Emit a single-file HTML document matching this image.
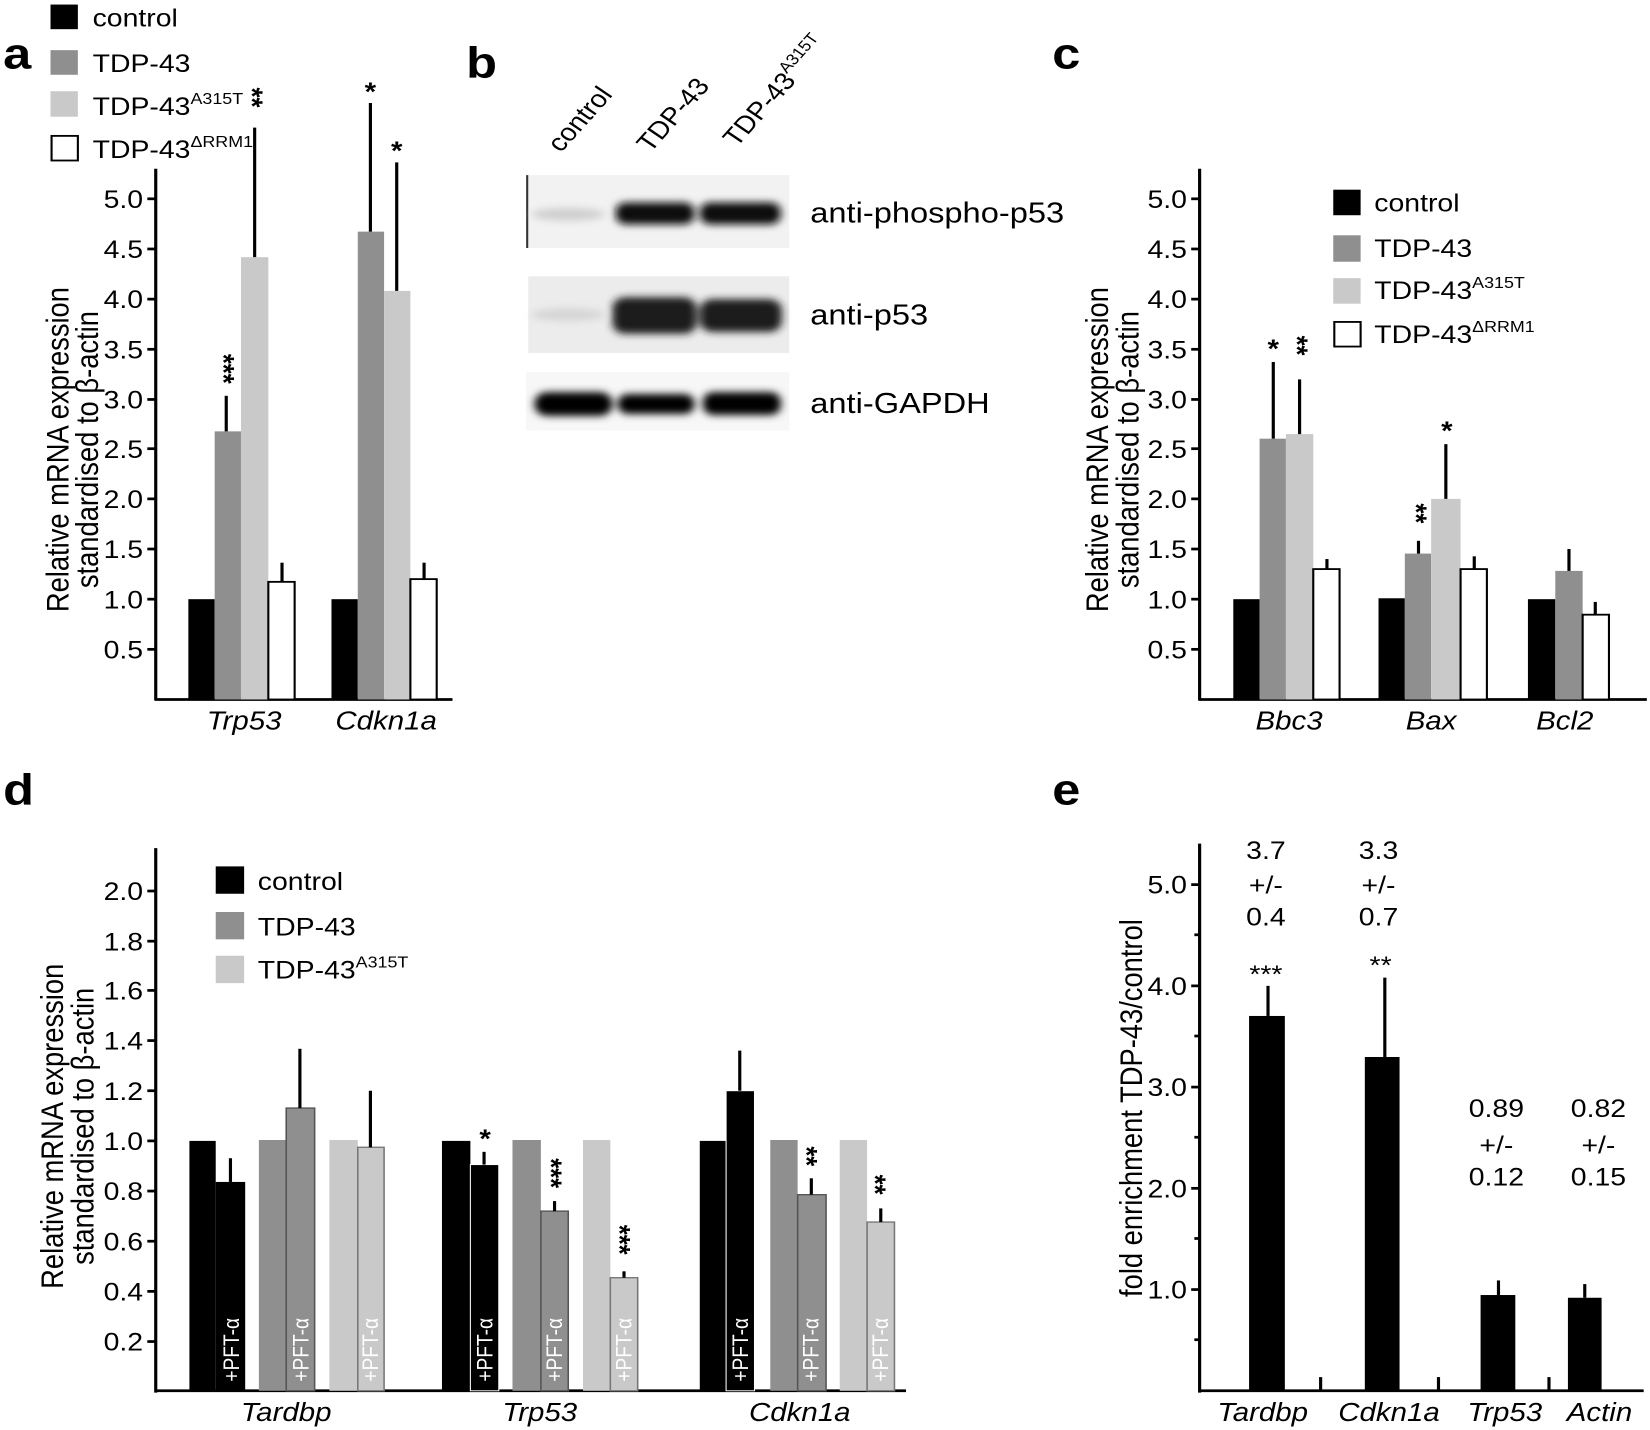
<!DOCTYPE html>
<html><head><meta charset="utf-8"><style>
html,body{margin:0;padding:0;background:#fff;}
svg{display:block;}
text{font-family:"Liberation Sans",sans-serif;fill:#000;}
.t{font-size:27px;}
.yl{font-size:30px;}
.tk{font-size:27px;text-anchor:end;}
.it{font-style:italic;font-size:28px;text-anchor:middle;}
.big{font-size:48px;font-weight:bold;}
.st{font-size:28px;font-weight:bold;}
.pf{font-size:21px;fill:#fff;}
.c{text-anchor:middle;}
</style></head><body>
<svg width="1650" height="1430" viewBox="0 0 1568 1568" preserveAspectRatio="none" xmlns="http://www.w3.org/2000/svg">
<rect width="1568" height="1568" fill="#fff"/>

<!-- ===== Panel a ===== -->
<text class="big" x="3" y="75">a</text>
<rect x="48" y="5" width="26" height="27" fill="#000"/>
<rect x="48" y="55" width="26" height="27" fill="#8f8f8f"/>
<rect x="48" y="100" width="26" height="28" fill="#c9c9c9"/>
<rect x="49" y="149" width="25" height="27" fill="#fff" stroke="#000" stroke-width="2"/>
<text class="t" x="88" y="29">control</text>
<text class="t" x="88" y="79">TDP-43</text>
<text class="t" x="88" y="126">TDP-43<tspan font-size="17" dy="-12">A315T</tspan></text>
<text class="t" x="88" y="173">TDP-43<tspan font-size="17" dy="-12">ΔRRM1</tspan></text>

<g stroke="#000" stroke-width="3">
<line x1="148" y1="185" x2="148" y2="768"/>
<line x1="147" y1="767" x2="430" y2="767"/>
<line x1="140" y1="218" x2="148" y2="218"/><line x1="140" y1="273" x2="148" y2="273"/>
<line x1="140" y1="328" x2="148" y2="328"/><line x1="140" y1="383" x2="148" y2="383"/>
<line x1="140" y1="438" x2="148" y2="438"/><line x1="140" y1="492" x2="148" y2="492"/>
<line x1="140" y1="547" x2="148" y2="547"/><line x1="140" y1="602" x2="148" y2="602"/>
<line x1="140" y1="657" x2="148" y2="657"/><line x1="140" y1="712" x2="148" y2="712"/>
</g>
<g>
<text class="tk" x="136" y="228">5.0</text><text class="tk" x="136" y="283">4.5</text>
<text class="tk" x="136" y="338">4.0</text><text class="tk" x="136" y="393">3.5</text>
<text class="tk" x="136" y="448">3.0</text><text class="tk" x="136" y="502">2.5</text>
<text class="tk" x="136" y="557">2.0</text><text class="tk" x="136" y="612">1.5</text>
<text class="tk" x="136" y="667">1.0</text><text class="tk" x="136" y="722">0.5</text>
</g>
<text class="yl c" transform="translate(55,493) rotate(-90)" y="10">Relative mRNA expression</text>
<text class="yl c" transform="translate(83,493) rotate(-90)" y="10">standardised to β-actin</text>
<!-- bars a -->
<rect x="179" y="657" width="25" height="110" fill="#000"/>
<rect x="204" y="473" width="25" height="294" fill="#8f8f8f"/>
<rect x="229" y="282" width="26" height="485" fill="#c9c9c9"/>
<rect x="255" y="638" width="25" height="129" fill="#fff" stroke="#000" stroke-width="2"/>
<rect x="315" y="657" width="25" height="110" fill="#000"/>
<rect x="340" y="254" width="25" height="513" fill="#8f8f8f"/>
<rect x="365" y="319" width="25" height="448" fill="#c9c9c9"/>
<rect x="390" y="635" width="25" height="132" fill="#fff" stroke="#000" stroke-width="2"/>
<g stroke="#000" stroke-width="3">
<line x1="215" y1="473" x2="215" y2="434"/>
<line x1="242" y1="282" x2="242" y2="140"/>
<line x1="268" y1="638" x2="268" y2="617"/>
<line x1="352" y1="254" x2="352" y2="113"/>
<line x1="377" y1="319" x2="377" y2="178"/>
<line x1="403" y1="635" x2="403" y2="617"/>
</g>
<text class="st" transform="translate(203,388) rotate(90)">***</text>
<text class="st" transform="translate(230,96) rotate(90)">**</text>
<text class="st c" x="352" y="110">*</text>
<text class="st c" x="377" y="175">*</text>
<text class="it" x="232" y="800">Trp53</text>
<text class="it" x="367" y="800">Cdkn1a</text>

<!-- ===== Panel b ===== -->
<text class="big" x="443" y="85">b</text>
<text class="t" transform="translate(533,168) rotate(-52)">control</text>
<text class="t" transform="translate(618,168) rotate(-52)">TDP-43</text>
<text class="t" transform="translate(700,162) rotate(-52)">TDP-43<tspan font-size="17" dy="-12">A315T</tspan></text>
<defs><filter id="bl"><feGaussianBlur stdDeviation="4"/></filter></defs>
<rect x="500" y="192" width="250" height="80" fill="#f2f2f2"/>
<line x1="501" y1="192" x2="501" y2="272" stroke="#333" stroke-width="2"/>
<rect x="502" y="303" width="248" height="84" fill="#ececec"/>
<rect x="500" y="408" width="250" height="64" fill="#f7f7f7"/>
<g filter="url(#bl)">
<ellipse cx="540" cy="235" rx="35" ry="7" fill="#cfcfcf"/>
<rect x="585" y="222" width="75" height="24" rx="10" fill="#111"/>
<rect x="665" y="222" width="77" height="24" rx="10" fill="#111"/>
<ellipse cx="540" cy="345" rx="35" ry="7" fill="#d5d5d5"/>
<rect x="582" y="326" width="80" height="40" rx="12" fill="#1a1a1a"/>
<rect x="665" y="328" width="78" height="36" rx="12" fill="#1a1a1a"/>
<rect x="508" y="430" width="74" height="26" rx="12" fill="#000"/>
<rect x="587" y="432" width="73" height="22" rx="10" fill="#050505"/>
<rect x="668" y="430" width="74" height="25" rx="10" fill="#000"/>
</g>
<text x="770" y="244" font-size="31">anti-phospho-p53</text>
<text x="770" y="356" font-size="31">anti-p53</text>
<text x="770" y="453" font-size="31">anti-GAPDH</text>

<!-- ===== Panel c ===== -->
<text class="big" x="1000" y="75">c</text>
<g stroke="#000" stroke-width="3">
<line x1="1140" y1="185" x2="1140" y2="768"/>
<line x1="1139" y1="767" x2="1565" y2="767"/>
<line x1="1132" y1="218" x2="1140" y2="218"/><line x1="1132" y1="273" x2="1140" y2="273"/>
<line x1="1132" y1="328" x2="1140" y2="328"/><line x1="1132" y1="383" x2="1140" y2="383"/>
<line x1="1132" y1="438" x2="1140" y2="438"/><line x1="1132" y1="492" x2="1140" y2="492"/>
<line x1="1132" y1="547" x2="1140" y2="547"/><line x1="1132" y1="602" x2="1140" y2="602"/>
<line x1="1132" y1="657" x2="1140" y2="657"/><line x1="1132" y1="712" x2="1140" y2="712"/>
</g>
<g>
<text class="tk" x="1128" y="228">5.0</text><text class="tk" x="1128" y="283">4.5</text>
<text class="tk" x="1128" y="338">4.0</text><text class="tk" x="1128" y="393">3.5</text>
<text class="tk" x="1128" y="448">3.0</text><text class="tk" x="1128" y="502">2.5</text>
<text class="tk" x="1128" y="557">2.0</text><text class="tk" x="1128" y="612">1.5</text>
<text class="tk" x="1128" y="667">1.0</text><text class="tk" x="1128" y="722">0.5</text>
</g>
<text class="yl c" transform="translate(1043,493) rotate(-90)" y="10">Relative mRNA expression</text>
<text class="yl c" transform="translate(1072,493) rotate(-90)" y="10">standardised to β-actin</text>
<rect x="1267" y="208" width="26" height="28" fill="#000"/>
<rect x="1267" y="258" width="26" height="29" fill="#8f8f8f"/>
<rect x="1267" y="305" width="26" height="28" fill="#c9c9c9"/>
<rect x="1268" y="353" width="25" height="27" fill="#fff" stroke="#000" stroke-width="2"/>
<text class="t" x="1306" y="232">control</text>
<text class="t" x="1306" y="282">TDP-43</text>
<text class="t" x="1306" y="328">TDP-43<tspan font-size="17" dy="-12">A315T</tspan></text>
<text class="t" x="1306" y="376">TDP-43<tspan font-size="17" dy="-12">ΔRRM1</tspan></text>
<rect x="1172" y="657" width="25" height="110" fill="#000"/>
<rect x="1197" y="481" width="25" height="286" fill="#8f8f8f"/>
<rect x="1222" y="476" width="26" height="291" fill="#c9c9c9"/>
<rect x="1248" y="624" width="25" height="143" fill="#fff" stroke="#000" stroke-width="2"/>
<rect x="1310" y="656" width="25" height="111" fill="#000"/>
<rect x="1335" y="607" width="25" height="160" fill="#8f8f8f"/>
<rect x="1360" y="547" width="28" height="220" fill="#c9c9c9"/>
<rect x="1388" y="624" width="25" height="143" fill="#fff" stroke="#000" stroke-width="2"/>
<rect x="1452" y="657" width="26" height="110" fill="#000"/>
<rect x="1478" y="626" width="26" height="141" fill="#8f8f8f"/>
<rect x="1504" y="674" width="25" height="93" fill="#fff" stroke="#000" stroke-width="2"/>
<g stroke="#000" stroke-width="3">
<line x1="1210" y1="481" x2="1210" y2="397"/>
<line x1="1235" y1="476" x2="1235" y2="416"/>
<line x1="1261" y1="624" x2="1261" y2="613"/>
<line x1="1348" y1="607" x2="1348" y2="593"/>
<line x1="1374" y1="547" x2="1374" y2="487"/>
<line x1="1401" y1="624" x2="1401" y2="610"/>
<line x1="1491" y1="626" x2="1491" y2="602"/>
<line x1="1516" y1="674" x2="1516" y2="660"/>
</g>
<text class="st c" x="1210" y="392">*</text>
<text class="st" transform="translate(1223,368) rotate(90)">**</text>
<text class="st" transform="translate(1336,552) rotate(90)">**</text>
<text class="st c" x="1375" y="482">*</text>
<text class="it" x="1225" y="800">Bbc3</text>
<text class="it" x="1360" y="800">Bax</text>
<text class="it" x="1487" y="800">Bcl2</text>

<!-- ===== Panel d ===== -->
<text class="big" x="3" y="882">d</text>
<g stroke="#000" stroke-width="3">
<line x1="148" y1="930" x2="148" y2="1527"/>
<line x1="147" y1="1525" x2="861" y2="1525"/>
<line x1="140" y1="977" x2="148" y2="977"/><line x1="140" y1="1032" x2="148" y2="1032"/>
<line x1="140" y1="1086" x2="148" y2="1086"/><line x1="140" y1="1141" x2="148" y2="1141"/>
<line x1="140" y1="1196" x2="148" y2="1196"/><line x1="140" y1="1251" x2="148" y2="1251"/>
<line x1="140" y1="1306" x2="148" y2="1306"/><line x1="140" y1="1361" x2="148" y2="1361"/>
<line x1="140" y1="1416" x2="148" y2="1416"/><line x1="140" y1="1471" x2="148" y2="1471"/>
</g>
<g>
<text class="tk" x="136" y="987">2.0</text><text class="tk" x="136" y="1042">1.8</text>
<text class="tk" x="136" y="1096">1.6</text><text class="tk" x="136" y="1151">1.4</text>
<text class="tk" x="136" y="1206">1.2</text><text class="tk" x="136" y="1261">1.0</text>
<text class="tk" x="136" y="1316">0.8</text><text class="tk" x="136" y="1371">0.6</text>
<text class="tk" x="136" y="1426">0.4</text><text class="tk" x="136" y="1481">0.2</text>
</g>
<text class="yl c" transform="translate(50,1235) rotate(-90)" y="10">Relative mRNA expression</text>
<text class="yl c" transform="translate(79,1235) rotate(-90)" y="10">standardised to β-actin</text>
<rect x="205" y="950" width="27" height="30" fill="#000"/>
<rect x="205" y="1000" width="27" height="30" fill="#8f8f8f"/>
<rect x="205" y="1048" width="27" height="30" fill="#c9c9c9"/>
<text class="t" x="245" y="976">control</text>
<text class="t" x="245" y="1026">TDP-43</text>
<text class="t" x="245" y="1073">TDP-43<tspan font-size="17" dy="-12">A315T</tspan></text>
<!-- Tardbp -->
<rect x="180" y="1251" width="25" height="274" fill="#000"/>
<rect x="205" y="1296" width="28" height="229" fill="#000"/>
<rect x="246" y="1250" width="26" height="275" fill="#8f8f8f"/>
<rect x="272" y="1215" width="27" height="310" fill="#8f8f8f" stroke="#555" stroke-width="1.5"/>
<rect x="313" y="1250" width="27" height="275" fill="#c9c9c9"/>
<rect x="340" y="1258" width="25" height="267" fill="#c9c9c9" stroke="#777" stroke-width="1.5"/>
<!-- Trp53 -->
<rect x="420" y="1251" width="27" height="274" fill="#000"/>
<rect x="447" y="1277" width="27" height="248" fill="#000" stroke="#fff" stroke-width="1"/>
<rect x="487" y="1250" width="27" height="275" fill="#8f8f8f"/>
<rect x="514" y="1328" width="26" height="197" fill="#8f8f8f" stroke="#555" stroke-width="1.5"/>
<rect x="554" y="1250" width="26" height="275" fill="#c9c9c9"/>
<rect x="580" y="1401" width="26" height="124" fill="#c9c9c9" stroke="#777" stroke-width="1.5"/>
<!-- Cdkn1a -->
<rect x="665" y="1251" width="25" height="274" fill="#000"/>
<rect x="690" y="1196" width="27" height="329" fill="#000" stroke="#fff" stroke-width="1"/>
<rect x="732" y="1250" width="26" height="275" fill="#8f8f8f"/>
<rect x="758" y="1310" width="27" height="215" fill="#8f8f8f" stroke="#555" stroke-width="1.5"/>
<rect x="798" y="1250" width="26" height="275" fill="#c9c9c9"/>
<rect x="824" y="1340" width="26" height="185" fill="#c9c9c9" stroke="#777" stroke-width="1.5"/>
<g stroke="#000" stroke-width="3">
<line x1="219" y1="1296" x2="219" y2="1270"/>
<line x1="285" y1="1215" x2="285" y2="1150"/>
<line x1="352" y1="1258" x2="352" y2="1196"/>
<line x1="460" y1="1277" x2="460" y2="1263"/>
<line x1="527" y1="1328" x2="527" y2="1317"/>
<line x1="593" y1="1401" x2="593" y2="1394"/>
<line x1="703" y1="1196" x2="703" y2="1152"/>
<line x1="771" y1="1310" x2="771" y2="1292"/>
<line x1="837" y1="1340" x2="837" y2="1325"/>
</g>
<g>
<text class="pf" transform="translate(227,1515) rotate(-90)">+PFT-α</text>
<text class="pf" transform="translate(293,1515) rotate(-90)">+PFT-α</text>
<text class="pf" transform="translate(359,1515) rotate(-90)">+PFT-α</text>
<text class="pf" transform="translate(468,1515) rotate(-90)">+PFT-α</text>
<text class="pf" transform="translate(534,1515) rotate(-90)">+PFT-α</text>
<text class="pf" transform="translate(600,1515) rotate(-90)">+PFT-α</text>
<text class="pf" transform="translate(711,1515) rotate(-90)">+PFT-α</text>
<text class="pf" transform="translate(778,1515) rotate(-90)">+PFT-α</text>
<text class="pf" transform="translate(844,1515) rotate(-90)">+PFT-α</text>
</g>
<text class="st c" x="461" y="1258">*</text>
<text class="st" transform="translate(514,1270) rotate(90)">***</text>
<text class="st" transform="translate(579,1343) rotate(90)">***</text>
<text class="st" transform="translate(757,1257) rotate(90)">**</text>
<text class="st" transform="translate(822,1288) rotate(90)">**</text>
<text class="it" x="272" y="1558">Tardbp</text>
<text class="it" x="513" y="1558">Trp53</text>
<text class="it" x="760" y="1558">Cdkn1a</text>

<!-- ===== Panel e ===== -->
<text class="big" x="1000" y="882">e</text>
<g stroke="#000" stroke-width="3">
<line x1="1140" y1="925" x2="1140" y2="1527"/>
<line x1="1139" y1="1525" x2="1562" y2="1525"/>
<line x1="1132" y1="970" x2="1140" y2="970"/><line x1="1132" y1="1081" x2="1140" y2="1081"/>
<line x1="1132" y1="1192" x2="1140" y2="1192"/><line x1="1132" y1="1303" x2="1140" y2="1303"/>
<line x1="1132" y1="1414" x2="1140" y2="1414"/>
<line x1="1135" y1="1025" x2="1140" y2="1025"/><line x1="1135" y1="1136" x2="1140" y2="1136"/>
<line x1="1135" y1="1247" x2="1140" y2="1247"/><line x1="1135" y1="1358" x2="1140" y2="1358"/>
<line x1="1135" y1="1469" x2="1140" y2="1469"/>
<line x1="1255" y1="1510" x2="1255" y2="1525"/><line x1="1367" y1="1510" x2="1367" y2="1525"/>
<line x1="1472" y1="1510" x2="1472" y2="1525"/>
</g>
<g>
<text class="tk" x="1128" y="980">5.0</text><text class="tk" x="1128" y="1091">4.0</text>
<text class="tk" x="1128" y="1202">3.0</text><text class="tk" x="1128" y="1313">2.0</text>
<text class="tk" x="1128" y="1424">1.0</text>
</g>
<text class="yl c" transform="translate(1075,1215) rotate(-90)" y="10">fold enrichment TDP-43/control</text>
<rect x="1187" y="1114" width="34" height="411" fill="#000"/>
<rect x="1297" y="1159" width="33" height="366" fill="#000"/>
<rect x="1407" y="1420" width="33" height="105" fill="#000"/>
<rect x="1490" y="1423" width="32" height="102" fill="#000"/>
<g stroke="#000" stroke-width="3">
<line x1="1205" y1="1114" x2="1205" y2="1081"/>
<line x1="1316" y1="1159" x2="1316" y2="1072"/>
<line x1="1424" y1="1420" x2="1424" y2="1404"/>
<line x1="1506" y1="1423" x2="1506" y2="1408"/>
</g>
<g>
<text class="t c" x="1203" y="942">3.7</text>
<text class="t c" x="1203" y="980">+/-</text>
<text class="t c" x="1203" y="1015">0.4</text>
<text class="t c" x="1203" y="1078">***</text>
<text class="t c" x="1310" y="942">3.3</text>
<text class="t c" x="1310" y="980">+/-</text>
<text class="t c" x="1310" y="1015">0.7</text>
<text class="t c" x="1312" y="1068">**</text>
<text class="t c" x="1422" y="1225">0.89</text>
<text class="t c" x="1422" y="1265">+/-</text>
<text class="t c" x="1422" y="1300">0.12</text>
<text class="t c" x="1519" y="1225">0.82</text>
<text class="t c" x="1519" y="1265">+/-</text>
<text class="t c" x="1519" y="1300">0.15</text>
</g>
<text class="it" x="1200" y="1558">Tardbp</text>
<text class="it" x="1320" y="1558">Cdkn1a</text>
<text class="it" x="1430" y="1558">Trp53</text>
<text class="it" x="1520" y="1558">Actin</text>
</svg>
</body></html>
